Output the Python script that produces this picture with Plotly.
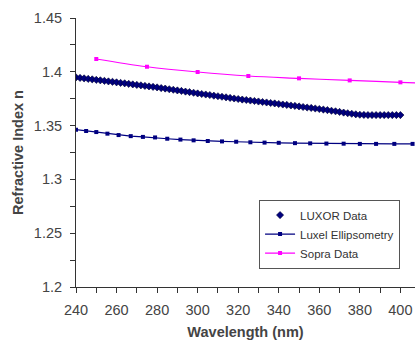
import plotly.graph_objects as go

# LUXOR Data (wavelength nm, refractive index)
luxor_wl = list(range(240, 401, 2))
luxor_n = [1.3948, 1.3943, 1.3939, 1.3934, 1.3930, 1.3925, 1.3921, 1.3916, 1.3911, 1.3907,
           1.3902, 1.3897, 1.3893, 1.3888, 1.3883, 1.3878, 1.3874, 1.3869, 1.3864, 1.3860,
           1.3855, 1.3849, 1.3844, 1.3838, 1.3833, 1.3827, 1.3822, 1.3816, 1.3811, 1.3805,
           1.3799, 1.3794, 1.3789, 1.3784, 1.3778, 1.3773, 1.3768, 1.3763, 1.3757, 1.3752,
           1.3747, 1.3742, 1.3738, 1.3733, 1.3729, 1.3724, 1.3719, 1.3715, 1.3710, 1.3706,
           1.3701, 1.3696, 1.3692, 1.3687, 1.3683, 1.3678, 1.3673, 1.3668, 1.3664, 1.3659,
           1.3654, 1.3649, 1.3644, 1.3638, 1.3633, 1.3627, 1.3621, 1.3615, 1.3610, 1.3605,
           1.3601, 1.3599, 1.3598, 1.3598, 1.3598, 1.3598, 1.3598, 1.3598, 1.3598, 1.3598,
           1.3598]

# Luxel Ellipsometry
luxel_wl = [240, 245, 250, 255.5, 261, 267, 273, 279, 285, 291.5, 298, 305, 312, 319, 326,
            333, 340, 348, 355.5, 363.5, 372, 380, 388, 397, 406]
luxel_n = [1.3462, 1.3450, 1.3440, 1.3425, 1.3412, 1.3402, 1.3395, 1.3390, 1.3378, 1.3370,
           1.3363, 1.3357, 1.3353, 1.3350, 1.3345, 1.3342, 1.3340, 1.3337, 1.3335, 1.3333,
           1.3332, 1.3330, 1.3330, 1.3330, 1.3330]

# Sopra Data
sopra_wl = [250, 275, 300, 325, 350, 375, 400, 425]
sopra_n = [1.4119, 1.4047, 1.3998, 1.3961, 1.3939, 1.3920, 1.3902, 1.3885]

x_ticks = [240, 260, 280, 300, 320, 340, 360, 380, 400]
y_ticks = [1.2, 1.25, 1.3, 1.35, 1.4, 1.45]
y_ticklabels = ["1.2", "1.25", "1.3", "1.35", "1.4", "1.45"]

FONT = "Liberation Sans, Arial, sans-serif"

fig = go.Figure()
fig.add_trace(go.Scatter(
    x=luxor_wl, y=luxor_n, mode="markers", name="LUXOR Data",
    marker=dict(symbol="diamond", size=5.5, color="#000080",
                line=dict(width=0.6, color="#000030")),
))
fig.add_trace(go.Scatter(
    x=luxel_wl, y=luxel_n, mode="lines+markers", name="Luxel Ellipsometry",
    line=dict(color="#000080", width=1.2),
    marker=dict(symbol="square", size=4, color="#000080"),
))
fig.add_trace(go.Scatter(
    x=sopra_wl, y=sopra_n, mode="lines+markers", name="Sopra Data",
    line=dict(color="#FF00FF", width=1.2, shape="spline"),
    marker=dict(symbol="square", size=4, color="#FF00FF"),
))

fig.update_layout(
    width=415, height=340,
    margin=dict(l=76, r=0, t=18, b=53),
    paper_bgcolor="white", plot_bgcolor="white",
    font=dict(family=FONT, color="#444444", size=14),
    showlegend=True,
    legend=dict(
        x=0.54, y=0.325, xanchor="left", yanchor="top",
        bgcolor="white", bordercolor="#555555", borderwidth=1,
        font=dict(family=FONT, size=11.5, color="#333333"),
        tracegroupgap=0, itemwidth=30,
    ),
)
fig.update_xaxes(
    range=[240, 407.2], tickmode="array", tickvals=x_ticks,
    ticks="outside", ticklen=5, tickcolor="#333333", tickwidth=1,
    ticklabelstandoff=5, automargin=False,
    minor=dict(dtick=10, tick0=240, ticks="outside", ticklen=5,
               tickcolor="#333333", showgrid=False),
    showline=True, linecolor="#333333", linewidth=1,
    showgrid=False, zeroline=False,
    tickfont=dict(size=14.5, color="#444444"),
    title=dict(text="<b>Wavelength (nm)</b>", font=dict(size=14.5, color="#444444"),
               standoff=18),
)
fig.update_yaxes(
    range=[1.2, 1.45], tickmode="array", tickvals=y_ticks, ticktext=y_ticklabels,
    ticks="outside", ticklen=5, tickcolor="#333333", tickwidth=1,
    ticklabelstandoff=5, automargin=False,
    minor=dict(dtick=0.025, tick0=1.2, ticks="outside", ticklen=5,
               tickcolor="#333333", showgrid=False),
    showline=True, linecolor="#333333", linewidth=1,
    showgrid=False, zeroline=False,
    tickfont=dict(size=14.5, color="#444444"),
    title=dict(text="<b>Refractive Index n</b>", font=dict(size=14.5, color="#444444"),
               standoff=6),
)

fig.write_html("out.html", config={"displayModeBar": False},
               post_script="document.body.style.margin='0';document.body.style.overflow='hidden';")
